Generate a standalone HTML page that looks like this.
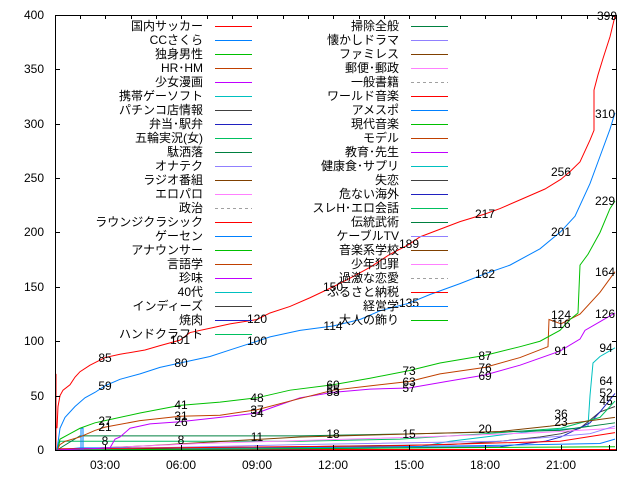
<!DOCTYPE html>
<html><head><meta charset="utf-8"><style>
body{margin:0;background:#fff}
svg{display:block}
text{font-family:"Liberation Sans","Noto Sans CJK JP",sans-serif;font-size:12px;fill:#000}
</style></head><body>
<svg width="640" height="480" xmlns="http://www.w3.org/2000/svg">
<rect width="640" height="480" fill="#fff"/>
<g fill="none" stroke-width="1">
<g transform="translate(0,450) scale(1,-1.0875)">
<polyline vector-effect="non-scaling-stroke" stroke="#ff0000" points="56,0.5 617,0.5"/>
<polyline vector-effect="non-scaling-stroke" stroke="#00c0c0" points="57,1 200,2 420,3 450,8 485,12 530,17 575,20 588,22 590,50 593,80 600,86 615,94"/>
<polyline vector-effect="non-scaling-stroke" stroke="#404040" points="57,0 300,3 450,5 500,8 540,12 561,15 580,20 600,35 615,40"/>
<polyline vector-effect="non-scaling-stroke" stroke="#2020c0" points="57,0 300,1 500,3 545,8 561,12 590,25 600,35 615,52"/>
<polyline vector-effect="non-scaling-stroke" stroke="#00c060" points="57,0 60,8 300,8 400,10 485,15 561,20 600,30 615,45"/>
<polyline vector-effect="non-scaling-stroke" stroke="#008040" points="57,0 80,13 300,13 420,15 560,18 615,25"/>
<polyline vector-effect="non-scaling-stroke" stroke="#804000" points="57,0 150,4 300,12 500,17 550,22 615,30"/>
<polyline vector-effect="non-scaling-stroke" stroke="#ff80ff" points="57,0 200,6 420,12 540,16 615,20"/>
<polyline vector-effect="non-scaling-stroke" stroke="#9080ff" points="57,0 300,5 500,8 590,15 615,22"/>
<polyline vector-effect="non-scaling-stroke" stroke="#0080ff" points="57,0 80,2 300,2 480,4 600,6 615,10"/>
<polyline vector-effect="non-scaling-stroke" stroke="#00c000" points="57,0 615,3"/>
<polyline vector-effect="non-scaling-stroke" stroke="#ff0000" points="57,1 400,4 560,8 615,16"/>
<polyline vector-effect="non-scaling-stroke" stroke="#0080ff" points="81,0 81,20 83,20 83,0"/>
<polyline vector-effect="non-scaling-stroke" stroke="#c000ff" points="57,0 110,2 115,10 120,12 130,20 150,24 180,26 220,30 257,34 275,40 300,48 333,53 370,56 409,57 440,62 485,69 520,78 560,91 580,102 585,110 600,118 615,126"/>
<polyline vector-effect="non-scaling-stroke" stroke="#c04000" points="57,0 60,5 65,8 80,12 95,18 105,21 140,27 180,31 220,32 257,37 290,45 333,55 370,59 409,63 440,70 485,76 520,85 548,95 549,120 561,116 580,125 600,145 615,164"/>
<polyline vector-effect="non-scaling-stroke" stroke="#00c000" points="57,0 60,10 70,15 80,20 95,25 105,27 140,34 180,41 220,44 257,48 290,55 333,60 370,66 409,73 440,80 485,87 520,95 540,100 560,110 570,120 578,126 580,170 588,180 600,200 610,222 615,229"/>
<polyline vector-effect="non-scaling-stroke" stroke="#0080ff" points="57,0 60,20 65,30 75,40 85,48 95,53 105,59 120,65 140,70 160,76 180,80 210,86 230,92 257,100 270,104 300,110 333,114 360,120 380,128 409,135 430,143 460,153 485,162 510,170 540,185 561,201 575,215 590,245 600,270 610,295 615,310"/>
<polyline vector-effect="non-scaling-stroke" stroke="#ff0000" points="56,0 56,70"/>
<polyline vector-effect="non-scaling-stroke" stroke="#ff0000" points="57,20 58,40 60,50 63,55 70,60 75,67 80,72 90,78 105,85 120,88 145,92 160,96 180,101 190,108 210,112 230,116 257,120 270,126 290,132 310,140 333,150 350,158 370,168 390,180 409,189 420,196 440,203 460,210 485,217 500,222 520,230 545,240 561,249 570,256 580,265 590,285 594,294 594,331 598,345 603,360 610,380 615,399"/>
</g>
</g>
<g stroke="#000" fill="none">
<rect x="55.5" y="15.5" width="561" height="435"/>
<path d="M55 450.5h5M55 396.5h5M55 341.5h5M55 287.5h5M55 232.5h5M55 178.5h5M55 124.5h5M55 69.5h5M55 15.5h5
M617 396.5h-5M617 341.5h-5M617 287.5h-5M617 232.5h-5M617 178.5h-5M617 124.5h-5M617 69.5h-5
M105.5 450v-5M181.5 450v-5M257.5 450v-5M333.5 450v-5M409.5 450v-5M485.5 450v-5M561.5 450v-5M609.5 450v-5
M80.5 15v4M105.5 15v4M131.5 15v4M156.5 15v4M181.5 15v4M207.5 15v4M232.5 15v4M257.5 15v4M283.5 15v4M308.5 15v4M333.5 15v4M359.5 15v4M384.5 15v4M409.5 15v4M435.5 15v4M460.5 15v4M485.5 15v4M511.5 15v4M536.5 15v4M561.5 15v4M587.5 15v4M612.5 15v4"/>
</g>
<g text-anchor="end">
<text x="44" y="454">0</text><text x="44" y="400">50</text><text x="44" y="345">100</text><text x="44" y="291">150</text><text x="44" y="236">200</text><text x="44" y="182">250</text><text x="44" y="128">300</text><text x="44" y="73">350</text><text x="44" y="19">400</text>
</g>
<g text-anchor="middle">
<text x="105" y="469">03:00</text><text x="181" y="469">06:00</text><text x="257" y="469">09:00</text><text x="333" y="469">12:00</text><text x="409" y="469">15:00</text><text x="485" y="469">18:00</text><text x="561" y="469">21:00</text>
<text x="105" y="362">85</text><text x="180" y="344">101</text><text x="257" y="323">120</text><text x="333" y="291">150</text><text x="409" y="248">189</text><text x="485" y="218">217</text><text x="561" y="176">256</text><text x="607" y="20">399</text>
<text x="105" y="390">59</text><text x="181" y="367">80</text><text x="257" y="345">100</text><text x="333" y="330">114</text><text x="409" y="307">135</text><text x="485" y="278">162</text><text x="561" y="236">201</text><text x="605" y="118">310</text>
<text x="105" y="425">27</text><text x="181" y="409">41</text><text x="257" y="402">48</text><text x="333" y="389">60</text><text x="409" y="375">73</text><text x="485" y="360">87</text><text x="561" y="319">124</text><text x="605" y="205">229</text>
<text x="105" y="431">21</text><text x="181" y="420">31</text><text x="257" y="414">37</text><text x="333" y="394">55</text><text x="409" y="386">63</text><text x="485" y="372">76</text><text x="561" y="328">116</text><text x="605" y="276">164</text>
<text x="181" y="426">26</text><text x="257" y="417">34</text><text x="333" y="396">53</text><text x="409" y="392">57</text><text x="485" y="380">69</text><text x="561" y="355">91</text><text x="605" y="318">126</text>
<text x="606" y="352">94</text><text x="606" y="385">64</text><text x="606" y="397">52</text><text x="606" y="405">45</text>
<text x="105" y="445">8</text><text x="181" y="444">8</text><text x="257" y="441">11</text><text x="333" y="438">18</text><text x="409" y="438">15</text><text x="485" y="433">20</text><text x="561" y="418">36</text><text x="561" y="426">23</text>
</g>
<g text-anchor="end">
<text x="203" y="30">国内サッカー</text><text x="203" y="44">CCさくら</text><text x="203" y="58">独身男性</text><text x="203" y="72">HR･HM</text><text x="203" y="86">少女漫画</text><text x="203" y="100">携帯ゲーソフト</text><text x="203" y="114">パチンコ店情報</text><text x="203" y="128">弁当･駅弁</text><text x="203" y="142">五輪実況(女)</text><text x="203" y="156">駄洒落</text><text x="203" y="170">オナテク</text><text x="203" y="184">ラジオ番組</text><text x="203" y="198">エロパロ</text><text x="203" y="212">政治</text><text x="203" y="226">ラウンジクラシック</text><text x="203" y="240">ゲーセン</text><text x="203" y="254">アナウンサー</text><text x="203" y="268">言語学</text><text x="203" y="282">珍味</text><text x="203" y="296">40代</text><text x="203" y="310">インディーズ</text><text x="203" y="324">焼肉</text><text x="203" y="338">ハンドクラフト</text>
<text x="399" y="30">掃除全般</text><text x="399" y="44">懐かしドラマ</text><text x="399" y="58">ファミレス</text><text x="399" y="72">郵便･郵政</text><text x="399" y="86">一般書籍</text><text x="399" y="100">ワールド音楽</text><text x="399" y="114">アメスポ</text><text x="399" y="128">現代音楽</text><text x="399" y="142">モデル</text><text x="399" y="156">教育･先生</text><text x="399" y="170">健康食･サプリ</text><text x="399" y="184">失恋</text><text x="399" y="198">危ない海外</text><text x="399" y="212">スレH･エロ会話</text><text x="399" y="226">伝統武術</text><text x="399" y="240">ケーブルTV</text><text x="399" y="254">音楽系学校</text><text x="399" y="268">少年犯罪</text><text x="399" y="282">過激な恋愛</text><text x="399" y="296">ふるさと納税</text><text x="399" y="310">経営学</text><text x="399" y="324">大人の飾り</text>
</g>
<g fill="none" stroke-width="1">
<path stroke="#ff0000" d="M215 26.5h37M215 222.5h37M411 96.5h37M411 292.5h37"/>
<path stroke="#0080ff" d="M215 40.5h37M215 236.5h37M411 110.5h37M411 306.5h37"/>
<path stroke="#00c000" d="M215 54.5h37M215 250.5h37M411 124.5h37M411 320.5h37"/>
<path stroke="#c04000" d="M215 68.5h37M215 264.5h37M411 138.5h37"/>
<path stroke="#c000ff" d="M215 82.5h37M215 278.5h37M411 152.5h37"/>
<path stroke="#00c0c0" d="M215 96.5h37M215 292.5h37M411 166.5h37"/>
<path stroke="#404040" d="M215 110.5h37M215 306.5h37M411 180.5h37"/>
<path stroke="#2020c0" d="M215 124.5h37M215 320.5h37M411 194.5h37"/>
<path stroke="#00c060" d="M215 138.5h37M215 334.5h37M411 208.5h37"/>
<path stroke="#008040" d="M215 152.5h37M411 26.5h37M411 222.5h37"/>
<path stroke="#9080ff" d="M215 166.5h37M411 40.5h37M411 236.5h37"/>
<path stroke="#804000" d="M215 180.5h37M411 54.5h37M411 250.5h37"/>
<path stroke="#ff80ff" d="M215 194.5h37M411 68.5h37M411 264.5h37"/>
<path stroke="#a0a0a0" stroke-dasharray="3,3" d="M215 208.5h37M411 82.5h37M411 278.5h37"/>
</g>
</svg>
</body></html>
